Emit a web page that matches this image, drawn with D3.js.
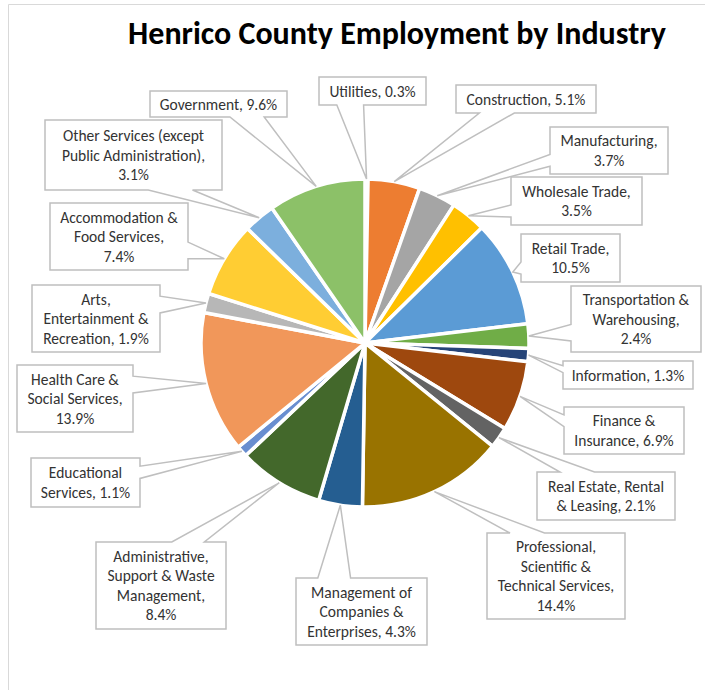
<!DOCTYPE html>
<html>
<head>
<meta charset="utf-8">
<script src="https://cdn.jsdelivr.net/npm/d3@7"></script>
<style>
  html, body { margin: 0; padding: 0; background: #fff; }
  svg { display: block; }
  text { font-family: Carlito, Calibri, Lato, "Noto Sans", sans-serif; }
</style>
</head>
<body>
<svg id="chart" width="705" height="690"></svg>
<script>
// Industry shares of county employment, in percent (clockwise from 12 o'clock)
const categories = [
  "Utilities", "Construction", "Manufacturing", "Wholesale Trade", "Retail Trade",
  "Transportation & Warehousing", "Information", "Finance & Insurance",
  "Real Estate, Rental & Leasing", "Professional, Scientific & Technical Services",
  "Management of Companies & Enterprises", "Administrative, Support & Waste Management",
  "Educational Services", "Health Care & Social Services", "Arts, Entertainment & Recreation",
  "Accommodation & Food Services", "Other Services (except Public Administration)", "Government"
];
const shares = [0.3, 5.1, 3.7, 3.5, 10.5, 2.4, 1.3, 6.9, 2.1, 14.4, 4.3, 8.4, 1.1, 13.9, 1.9, 7.4, 3.1, 9.6];

// Wrapped callout text; {v} is replaced with the slice's share
const labelLines = [
  ["Utilities, {v}"],
  ["Construction, {v}"],
  ["Manufacturing,", "{v}"],
  ["Wholesale Trade,", "{v}"],
  ["Retail Trade,", "{v}"],
  ["Transportation &", "Warehousing,", "{v}"],
  ["Information, {v}"],
  ["Finance &", "Insurance, {v}"],
  ["Real Estate, Rental", "& Leasing, {v}"],
  ["Professional,", "Scientific &", "Technical Services,", "{v}"],
  ["Management of", "Companies &", "Enterprises, {v}"],
  ["Administrative,", "Support & Waste", "Management,", "{v}"],
  ["Educational", "Services, {v}"],
  ["Health Care &", "Social Services,", "{v}"],
  ["Arts,", "Entertainment &", "Recreation, {v}"],
  ["Accommodation &", "Food Services,", "{v}"],
  ["Other Services (except", "Public Administration),", "{v}"],
  ["Government, {v}"]
];

// Slice fills (Office theme accents, then darker and lighter variants)
const sliceColors = [
  "#4472C4", "#ED7D31", "#A5A5A5", "#FFC000", "#5B9BD5", "#70AD47",
  "#264478", "#9E480E", "#636363", "#997300", "#255E91", "#43682B",
  "#698ED0", "#F1975A", "#B7B7B7", "#FFCD33", "#7CAFDD", "#8CC168"
];

// Callout box placement: [left, top, width, height]
const calloutBoxes = [
  [319, 77, 107, 28], [456, 85, 140, 28], [550, 127, 118, 47], [511, 177, 131, 48],
  [521, 234, 99, 48], [571, 286, 130, 66], [563, 361, 130, 28], [564, 407, 120, 47],
  [537, 472, 138, 48], [487, 533, 138, 86], [296, 578, 131, 67], [96, 542, 130, 87],
  [31, 458, 109, 49], [17, 365, 116, 67], [32, 285, 128, 67], [50, 203, 138, 67],
  [45, 120, 177, 70], [150, 91, 137, 26]
];

const W = 705, H = 690;
const cx = 365, cy = 343, R = 164;
const lineH = 19.5;

const svg = d3.select("#chart");
svg.append("rect").attr("width", W).attr("height", H).attr("fill", "#fff");

// chart area frame (top and left edges visible)
svg.append("path")
  .attr("d", `M8.5,${H} V4.5 H${W}`)
  .attr("fill", "none").attr("stroke", "#D9D9D9").attr("stroke-width", 1);

svg.append("text")
  .attr("x", 397).attr("y", 44)
  .attr("text-anchor", "middle")
  .attr("font-size", 32).attr("font-weight", "bold").attr("fill", "#000")
  .text("Henrico County Employment by Industry");

const color = d3.scaleOrdinal().domain(categories).range(sliceColors);
const pie = d3.pie().sort(null).value(d => d.value).startAngle(0).endAngle(2 * Math.PI);
const data = categories.map((c, i) => ({ name: c, value: shares[i], index: i }));
const arcs = pie(data);

const arc = d3.arc().innerRadius(0).outerRadius(R);
const rim = d3.arc().innerRadius(R).outerRadius(R);

const g = svg.append("g").attr("transform", `translate(${cx},${cy})`);
g.selectAll("path.slice").data(arcs).join("path")
  .attr("class", "slice")
  .attr("d", arc)
  .attr("fill", d => color(d.data.name))
  .attr("stroke", "#fff").attr("stroke-width", 3.5)
  .attr("stroke-linejoin", "round");

// Rectangular callout with a wedge pointing at (px, py)
function calloutPath(x, y, w, h, px, py) {
  const l = x, t = y, r = x + w, b = y + h;
  const hc = x + w / 2, vc = y + h / 2;
  const dx = px - hc, dy = py - vc;
  const dq = dx * h / w;
  const dz = Math.abs(dy) - Math.abs(dq);
  const x1 = l + w * (dx > 0 ? 7 : 2) / 12, x2 = l + w * (dx > 0 ? 10 : 5) / 12;
  const y1 = t + h * (dy > 0 ? 7 : 2) / 12, y2 = t + h * (dy > 0 ? 10 : 5) / 12;
  const xl = dz > 0 ? l : (dx > 0 ? l : px);
  const yl = dz > 0 ? y1 : (dx > 0 ? y1 : py);
  const xt = dz > 0 ? (dy > 0 ? x1 : px) : x1;
  const yt = dz > 0 ? (dy > 0 ? t : py) : t;
  const xr = dz > 0 ? r : (dx > 0 ? px : r);
  const yr = dz > 0 ? y1 : (dx > 0 ? py : y1);
  const xb = dz > 0 ? (dy > 0 ? px : x1) : x1;
  const yb = dz > 0 ? (dy > 0 ? py : b) : b;
  const p = d3.path();
  p.moveTo(l, t); p.lineTo(x1, t); p.lineTo(xt, yt); p.lineTo(x2, t); p.lineTo(r, t);
  p.lineTo(r, y1); p.lineTo(xr, yr); p.lineTo(r, y2); p.lineTo(r, b);
  p.lineTo(x2, b); p.lineTo(xb, yb); p.lineTo(x1, b); p.lineTo(l, b);
  p.lineTo(l, y2); p.lineTo(xl, yl); p.lineTo(l, y1); p.closePath();
  return p.toString();
}

const fmt = v => d3.format(".1f")(v) + "%";

const labels = svg.append("g").selectAll("g.callout").data(arcs).join("g").attr("class", "callout");

labels.append("path")
  .attr("d", d => {
    const [bx, by, bw, bh] = calloutBoxes[d.index];
    const [tx, ty] = rim.centroid(d);
    return calloutPath(bx, by, bw, bh, cx + tx, cy + ty);
  })
  .attr("fill", "#fff").attr("stroke", "#BFBFBF").attr("stroke-width", 1.5)
  .attr("stroke-linejoin", "miter");

labels.each(function (d) {
  const [bx, by, bw, bh] = calloutBoxes[d.index];
  const lines = labelLines[d.index].map(s => s.replace("{v}", fmt(d.data.value)));
  const n = lines.length;
  const t = d3.select(this).append("text")
    .attr("text-anchor", "middle")
    .attr("font-size", 15.5)
    .attr("fill", "#333333");
  lines.forEach((s, i) => {
    t.append("tspan")
      .attr("x", bx + bw / 2)
      .attr("y", by + bh / 2 + (i - (n - 1) / 2) * lineH + 5.5)
      .text(s);
  });
});
</script>
</body>
</html>
